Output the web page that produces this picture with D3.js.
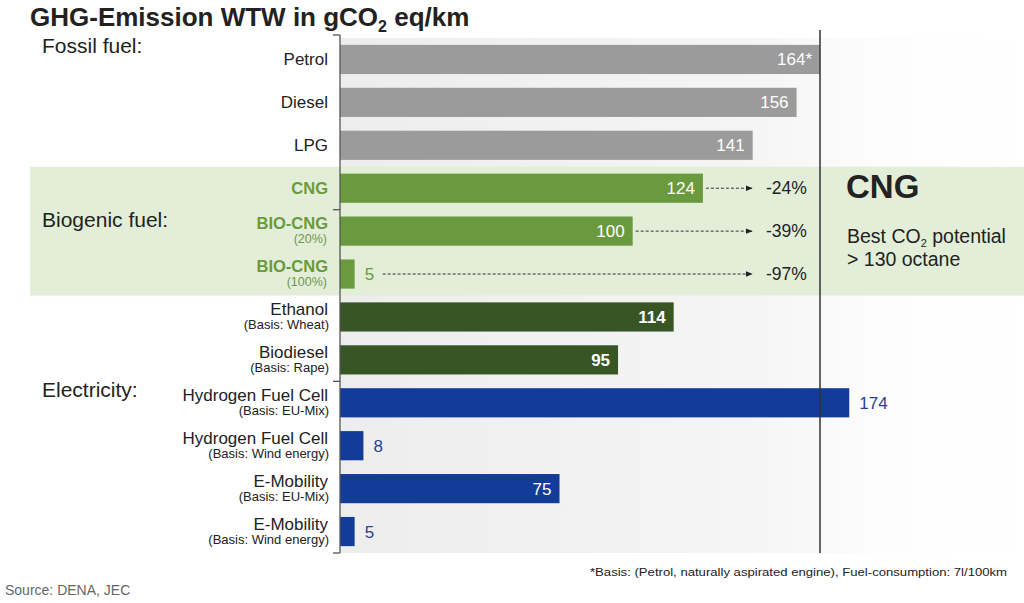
<!DOCTYPE html>
<html><head><meta charset="utf-8">
<script src="https://cdn.jsdelivr.net/npm/d3@7"></script>
<style>body{margin:0;background:#fff}svg{display:block;font-family:Arial,"Liberation Sans",sans-serif}</style>
</head><body><svg id="c" width="1024" height="603"></svg>
<script>
const categories = ["Petrol","Diesel","LPG","CNG","BIO-CNG","BIO-CNG","Ethanol","Biodiesel","Hydrogen Fuel Cell","Hydrogen Fuel Cell","E-Mobility","E-Mobility"];
const subLabels = ["","","","","(20%)","(100%)","(Basis: Wheat)","(Basis: Rape)","(Basis: EU-Mix)","(Basis: Wind energy)","(Basis: EU-Mix)","(Basis: Wind energy)"];
const values = [164,156,141,124,100,5,114,95,174,8,75,5];
const valueLabels = ["164*","156","141","124","100","5","114","95","174","8","75","5"];
const groups = ["fossil","fossil","fossil","cng","cng","cng","bio","bio","elec","elec","elec","elec"];
const reductions = ["","","","-24%","-39%","-97%","","","","","",""];
const groupTitles = ["Fossil fuel:","Biogenic fuel:","Electricity:"];
const reference = 164;

const colors = {fossil:"#9b9b9b", cng:"#6a9a3e", bio:"#375623", elec:"#133c98"};
const svg = d3.select("#c");
const ids = d3.range(values.length);
const x = d3.scaleLinear().domain([0,reference]).range([340,820]);
const y = d3.scaleBand().domain(ids).range([38,553]).paddingInner(0.32).paddingOuter(0.16);
const step = y.step();
const cy = i => y(i) + y.bandwidth()/2;
const half = (step - y.bandwidth())/2;

// defs
const defs = svg.append("defs");
const grad = defs.append("linearGradient").attr("id","bg").attr("gradientUnits","userSpaceOnUse").attr("x1",340).attr("x2",1024).attr("y1",0).attr("y2",0);
grad.append("stop").attr("offset","0").attr("stop-color","#ededed");
grad.append("stop").attr("offset","0.6").attr("stop-color","#f5f5f5");
grad.append("stop").attr("offset","0.8").attr("stop-color","#fdfdfd");
grad.append("stop").attr("offset","1").attr("stop-color","#ffffff");
defs.append("marker").attr("id","arr").attr("viewBox","0 0 10 10").attr("refX","9").attr("refY","5")
  .attr("markerWidth","7").attr("markerHeight","7").attr("orient","auto")
  .append("path").attr("d","M0,1 L10,5 L0,9 Z").attr("fill","#222");

// plot background
svg.append("rect").attr("x",x(0)).attr("y",y.range()[0]).attr("width",1024-x(0)).attr("height",y.range()[1]-y.range()[0]).attr("fill","url(#bg)");

// green band for CNG rows
const cngRows = ids.filter(i=>groups[i]==="cng");
const bandTop = y(cngRows[0]) - half;
const bandBot = y(cngRows[cngRows.length-1]) + y.bandwidth() + half;
svg.append("rect").attr("x",30).attr("y",bandTop).attr("width",994).attr("height",bandBot-bandTop).attr("fill","#e2eed8");

// title
const title = svg.append("text").attr("x",30).attr("y",26).attr("font-size",26).attr("font-weight","bold").attr("fill","#222");
title.append("tspan").text("GHG-Emission WTW in gCO");
title.append("tspan").text("2").attr("font-size",16).attr("dy",6);
title.append("tspan").text(" eq/km").attr("dy",-6);

// group titles (placed next to first row of each group)
const groupTitleY = [53, 227, 397];
svg.selectAll(".gt").data(groupTitles).join("text").attr("class","gt")
  .attr("x",42).attr("y",(d,i)=>groupTitleY[i])
  .attr("font-size",21).attr("fill","#222").text(d=>d);

// bars
svg.selectAll(".bar").data(ids).join("rect").attr("class","bar")
  .attr("x",x(0)).attr("y",i=>y(i)).attr("height",y.bandwidth())
  .attr("width",i=>x(values[i])-x(0)).attr("fill",i=>colors[groups[i]]);

// axis lines
svg.append("line").attr("x1",x(0)).attr("x2",x(0)).attr("y1",y.range()[0]-3).attr("y2",y.range()[1]).attr("stroke","#555").attr("stroke-width",1.3);
svg.append("line").attr("x1",x(reference)).attr("x2",x(reference)).attr("y1",30).attr("y2",y.range()[1]).attr("stroke","#333").attr("stroke-width",1.5);
[0,4,8,12].forEach(k=>{
  const yy = y.range()[0] + k*step - (k===0?3:0);
  svg.append("line").attr("x1",x(0)-7).attr("x2",x(0)).attr("y1",yy).attr("y2",yy).attr("stroke","#555").attr("stroke-width",1.3);
});

// category labels
const lab = svg.selectAll(".lab").data(ids).join("g").attr("class","lab");
lab.append("text").attr("x",328).attr("text-anchor","end")
  .attr("y",i=> subLabels[i] ? cy(i)-2 : cy(i)+6)
  .attr("font-size",i=>groups[i]==="cng"?16.5:17)
  .attr("font-weight",i=>groups[i]==="cng"?"bold":"normal")
  .attr("fill",i=>groups[i]==="cng"?"#6a9a3e":"#222")
  .text(i=>categories[i]);
lab.filter(i=>subLabels[i]).append("text").attr("x",i=>groups[i]==="cng"?327:329).attr("text-anchor","end")
  .attr("y",i=>cy(i)+12).attr("font-size",i=>groups[i]==="cng"?12.5:13)
  .attr("fill",i=>groups[i]==="cng"?"#6f9650":"#222")
  .text(i=>subLabels[i]);

// value labels
const inside = i => values[i] <= reference && x(values[i]) - x(0) > 40;
const outColor = i => groups[i]==="elec" ? "#2c3f8f" : "#6a9a3e";
svg.selectAll(".val").data(ids).join("text").attr("class","val")
  .attr("x",i=> inside(i) ? x(values[i])-8 : x(values[i])+10)
  .attr("y",i=>cy(i)+6).attr("font-size",17)
  .attr("text-anchor",i=>inside(i)?"end":"start")
  .attr("font-weight",i=>groups[i]==="bio"?"bold":"normal")
  .attr("fill",i=> inside(i) ? "#fff" : outColor(i))
  .text(i=>valueLabels[i]);

// reduction arrows
const redRows = ids.filter(i=>reductions[i]);
svg.selectAll(".arrow").data(redRows).join("line").attr("class","arrow")
  .attr("x1",i=> inside(i) ? x(values[i])+3 : x(values[i])+28)
  .attr("x2",752).attr("y1",i=>cy(i)).attr("y2",i=>cy(i))
  .attr("stroke","#333").attr("stroke-width",1).attr("stroke-dasharray","3,2")
  .attr("marker-end","url(#arr)");
svg.selectAll(".red").data(redRows).join("text").attr("class","red")
  .attr("x",766).attr("y",i=>cy(i)+6).attr("font-size",17.5).attr("fill","#222")
  .text(i=>reductions[i]);

// right panel
svg.append("text").attr("x",846).attr("y",198).attr("font-size",33).attr("font-weight","bold").attr("fill","#222").text("CNG");
const t2 = svg.append("text").attr("x",847).attr("y",243).attr("font-size",19.5).attr("fill","#222");
t2.append("tspan").text("Best CO");
t2.append("tspan").text("2").attr("font-size",11).attr("dy",3.5);
t2.append("tspan").text(" potential").attr("dy",-3.5);
svg.append("text").attr("x",847).attr("y",266).attr("font-size",19.5).attr("fill","#222").text("> 130 octane");

// footer
svg.append("text").attr("x",1007).attr("y",576).attr("text-anchor","end").attr("font-size",11.5).attr("fill","#222")
  .attr("textLength",417).attr("lengthAdjust","spacingAndGlyphs")
  .text("*Basis: (Petrol, naturally aspirated engine), Fuel-consumption: 7l/100km");
svg.append("text").attr("x",5).attr("y",595).attr("font-size",14).attr("fill","#666").text("Source: DENA, JEC");
</script></body></html>
